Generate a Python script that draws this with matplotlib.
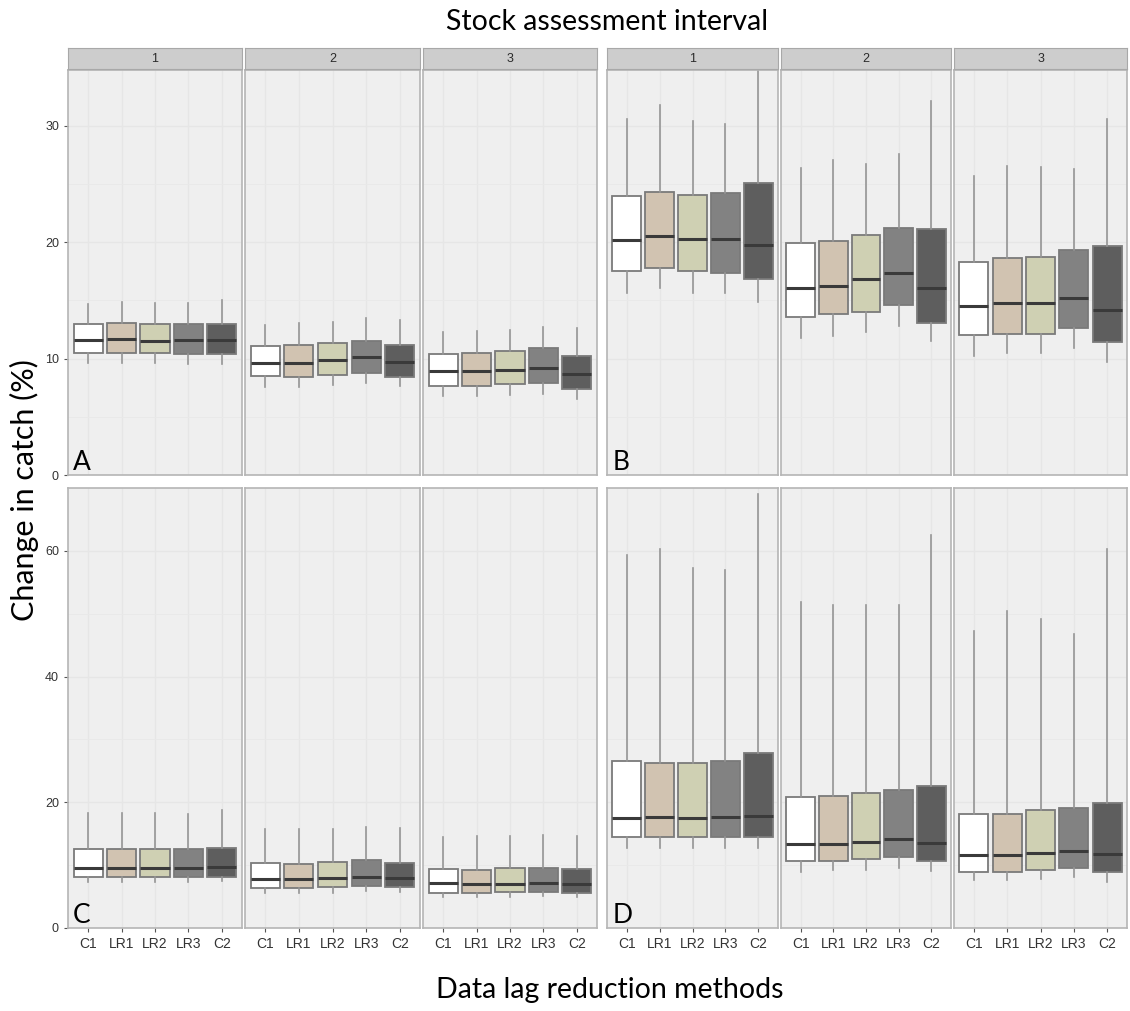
import matplotlib.pyplot as plt
import numpy as np

# methods and intervals
methods = ['C1', 'LR1', 'LR2', 'LR3', 'C2']
intervals = ['1', '2', '3']
fills = ['#ffffff', '#d1c3b1', '#cfd0b3', '#828282', '#5e5e5e']

# panel A (top left) - rows are interval 1,2,3
A_lo = [[9.6, 9.6, 9.6, 9.5, 9.5], [7.6, 7.6, 7.7, 7.9, 7.65], [6.8, 6.8, 6.85, 7.0, 6.5]]
A_q1 = [[10.5, 10.5, 10.5, 10.4, 10.4], [8.5, 8.4, 8.55, 8.8, 8.4], [7.65, 7.65, 7.8, 7.9, 7.4]]
A_med = [[11.6, 11.7, 11.5, 11.6, 11.6], [9.6, 9.65, 9.9, 10.1, 9.7], [8.9, 8.9, 9.05, 9.2, 8.65]]
A_q3 = [[13.0, 13.1, 13.0, 13.0, 13.0], [11.05, 11.15, 11.3, 11.5, 11.2], [10.4, 10.5, 10.65, 10.9, 10.2]]
A_hi = [[14.7, 14.9, 14.8, 14.8, 15.0], [12.9, 13.1, 13.15, 13.5, 13.3], [12.3, 12.4, 12.5, 12.7, 12.6]]

# panel B (top right)
B_lo = [[15.6, 16.05, 15.6, 15.6, 14.9], [11.75, 11.95, 12.3, 12.8, 11.5], [10.25, 10.45, 10.45, 10.9, 9.7]]
B_q1 = [[17.5, 17.8, 17.5, 17.4, 16.8], [13.6, 13.85, 14.0, 14.6, 13.1], [12.0, 12.1, 12.1, 12.6, 11.4]]
B_med = [[20.2, 20.5, 20.25, 20.25, 19.8], [16.05, 16.25, 16.8, 17.4, 16.1], [14.5, 14.75, 14.8, 15.2, 14.2]]
B_q3 = [[24.0, 24.35, 24.1, 24.2, 25.1], [19.9, 20.1, 20.65, 21.2, 21.1], [18.3, 18.65, 18.75, 19.3, 19.7]]
B_hi = [[30.6, 31.8, 30.4, 30.2, 35.5], [26.4, 27.1, 26.75, 27.6, 32.1], [25.7, 26.55, 26.5, 26.3, 30.6]]

# panel C (bottom left)
C_lo = [[7.35, 7.35, 7.35, 7.35, 7.45], [5.6, 5.6, 5.6, 5.95, 5.7], [5.0, 5.0, 5.0, 5.1, 4.9]]
C_q1 = [[8.05, 8.05, 8.05, 8.05, 8.15], [6.3, 6.3, 6.45, 6.7, 6.45], [5.6, 5.6, 5.75, 5.8, 5.6]]
C_med = [[9.6, 9.6, 9.6, 9.6, 9.75], [7.85, 7.75, 8.0, 8.15, 8.0], [7.1, 7.0, 7.0, 7.2, 7.0]]
C_q3 = [[12.6, 12.5, 12.6, 12.6, 12.7], [10.4, 10.2, 10.55, 10.8, 10.4], [9.4, 9.2, 9.55, 9.55, 9.4]]
C_hi = [[18.35, 18.3, 18.35, 18.1, 18.8], [15.7, 15.7, 15.8, 16.1, 15.95], [14.55, 14.65, 14.65, 14.8, 14.65]]

# panel D (bottom right)
D_lo = [[12.7, 12.7, 12.7, 12.7, 12.7], [8.95, 9.2, 9.3, 9.6, 9.05], [7.6, 7.6, 7.75, 8.05, 7.35]]
D_q1 = [[14.4, 14.4, 14.4, 14.4, 14.4], [10.7, 10.7, 11.0, 11.35, 10.65], [8.95, 8.95, 9.2, 9.5, 8.85]]
D_med = [[17.45, 17.6, 17.5, 17.6, 17.8], [13.3, 13.3, 13.75, 14.2, 13.6], [11.55, 11.55, 12.0, 12.2, 11.7]]
D_q3 = [[26.5, 26.3, 26.3, 26.5, 27.9], [20.9, 21.0, 21.4, 21.95, 22.6], [18.1, 18.1, 18.8, 19.05, 19.85]]
D_hi = [[59.4, 60.3, 57.2, 56.9, 69.1], [51.8, 51.35, 51.45, 51.45, 62.45], [47.3, 50.4, 49.1, 46.7, 60.3]]

W, H = 1130, 1011
fig = plt.figure(figsize=(W / 100, H / 100), dpi=100)

tick_font = ['Liberation Sans Narrow', 'Liberation Sans', 'DejaVu Sans']
label_font = ['Lato', 'DejaVu Sans']


def px_axes(x0, y0, x1, y1):
    return fig.add_axes([x0 / W, 1 - y1 / H, (x1 - x0) / W, (y1 - y0) / H])


def draw_facet(ax, lo, q1, med, q3, hi, ymax, major, minor):
    stats = []
    for i in range(5):
        stats.append(dict(whislo=lo[i], q1=q1[i], med=med[i], q3=q3[i], whishi=hi[i], fliers=[]))
    bp = ax.bxp(stats, positions=range(1, 6), widths=0.87, patch_artist=True,
                showcaps=False, showfliers=False,
                boxprops=dict(edgecolor='#7a7a7a', linewidth=1.3),
                medianprops=dict(color='#3a3a3a', linewidth=2.2),
                whiskerprops=dict(color='#959595', linewidth=1.2))
    for patch, c in zip(bp['boxes'], fills):
        patch.set_facecolor(c)
    ax.set_facecolor('#efefef')
    ax.set_xlim(0.4, 5.6)
    ax.set_ylim(0, ymax)
    ax.set_yticks(major)
    ax.set_yticks(minor, minor=True)
    ax.grid(True, which='major', color='#e6e6e6', linewidth=1.0)
    ax.grid(True, which='minor', axis='y', color='#e9e9e9', linewidth=0.7)
    ax.set_axisbelow(True)
    for s in ax.spines.values():
        s.set_color('#b5b5b5')
        s.set_linewidth(1.2)
    ax.tick_params(which='minor', length=0)
    ax.tick_params(which='major', length=3, color='#555555', width=0.8)
    ax.set_xticks(range(1, 6))


xs_left = [(68, 242), (245, 420), (423, 597)]
xs_right = [(607, 778), (781, 951), (954, 1127)]
top_y = (70, 475)
bot_y = (488, 928)

panels = [
    ('A', xs_left, top_y, (A_lo, A_q1, A_med, A_q3, A_hi), 34.8, [0, 10, 20, 30], [5, 15, 25], True, False),
    ('B', xs_right, top_y, (B_lo, B_q1, B_med, B_q3, B_hi), 34.8, [0, 10, 20, 30], [5, 15, 25], False, False),
    ('C', xs_left, bot_y, (C_lo, C_q1, C_med, C_q3, C_hi), 70, [0, 20, 40, 60], [10, 30, 50], True, True),
    ('D', xs_right, bot_y, (D_lo, D_q1, D_med, D_q3, D_hi), 70, [0, 20, 40, 60], [10, 30, 50], False, True),
]

for letter, xs, (ya, yb), data, ymax, major, minor, show_y, show_x in panels:
    lo, q1, med, q3, hi = data
    for k, (x0, x1) in enumerate(xs):
        ax = px_axes(x0, ya, x1, yb)
        draw_facet(ax, lo[k], q1[k], med[k], q3[k], hi[k], ymax, major, minor)
        if show_y and k == 0:
            ax.set_yticklabels([str(v) for v in major], fontsize=9, color='#333333', family=tick_font)
        else:
            ax.tick_params(axis='y', which='both', left=False, labelleft=False)
        if show_x:
            ax.set_xticklabels(methods, fontsize=10, color='#333333', family=tick_font)
        else:
            ax.tick_params(axis='x', bottom=False, labelbottom=False)
        if k == 0:
            ax.text(0.03, 0.0, letter, transform=ax.transAxes, fontsize=19,
                    family=label_font, va='bottom', ha='left', color='black')
        # facet strips on the top row
        if ya == top_y[0]:
            sax = px_axes(x0, 48, x1, 69)
            sax.set_facecolor('#cdcdcd')
            sax.set_xticks([])
            sax.set_yticks([])
            for s in sax.spines.values():
                s.set_color('#a8a8a8')
            sax.text(0.5, 0.5, intervals[k], ha='center', va='center', fontsize=9,
                     color='#2a2a2a', family=tick_font, transform=sax.transAxes)

fig.text(607 / W, 1 - 22 / H, 'Stock assessment interval', ha='center', va='center',
         fontsize=20.5, family=label_font)
fig.text(610 / W, 1 - 990 / H, 'Data lag reduction methods', ha='center', va='center',
         fontsize=20.5, family=label_font)
fig.text(24 / W, 1 - 490 / H, 'Change in catch (%)', ha='center', va='center',
         rotation=90, fontsize=22, family=label_font)

fig.savefig('out.png', dpi=100)
